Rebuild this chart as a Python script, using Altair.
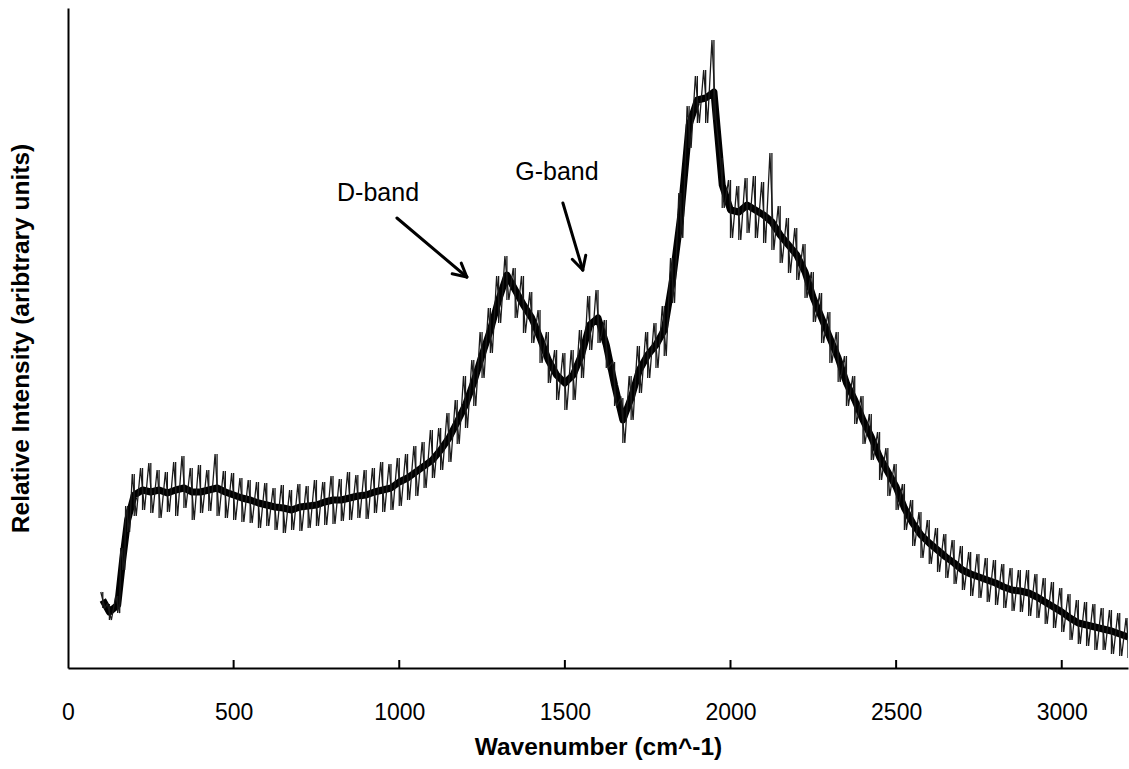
import math
import altair as alt
import pandas as pd

# ---- data (intensity in arbitrary units) ----
wavenumber = [105, 125, 150, 165, 180] + list(range(200, 3201, 25))

center = [
    68, 56, 63, 108, 148,
    173, 178, 176, 178, 175, 178, 180, 176,
    176, 178, 180, 176, 173, 170, 168, 165,
    163, 161, 160, 158, 161, 162, 163, 166,
    168, 168, 170, 172, 173, 176, 178, 180,
    186, 190, 196, 202, 208, 218, 230, 246,
    263, 286, 313, 338, 368, 393, 378, 363,
    350, 330, 308, 293, 285, 293, 313, 343,
    350, 323, 283, 248, 270, 298, 313, 323,
    338, 388, 453, 543, 568, 570, 576, 483,
    458, 456, 463, 458, 453, 446, 433, 423,
    413, 396, 370, 350, 330, 310, 285, 268,
    248, 231, 211, 196, 181, 160, 145, 133,
    125, 118, 111, 105, 98, 94, 91, 88,
    85, 81, 78, 77, 75, 71, 66, 61,
    56, 50, 45, 43, 41, 39, 37, 34,
    31,
]

upper = [
    76, 64, 72, 120, 162,
    194, 200, 205, 198, 196, 206, 212, 200,
    203, 198, 214, 197, 195, 190, 188, 186,
    185, 180, 183, 178, 184, 182, 188, 186,
    192, 189, 196, 193, 198, 200, 206, 204,
    210, 214, 222, 226, 238, 240, 255, 268,
    292, 308, 336, 360, 392, 412, 400, 392,
    376, 358, 336, 318, 315, 318, 338, 372,
    378, 348, 306, 270, 292, 322, 336, 345,
    362, 410, 475, 562, 592, 598, 628, 510,
    488, 482, 490, 492, 486, 515, 462, 450,
    440, 424, 396, 375, 356, 336, 312, 292,
    272, 254, 236, 220, 204, 184, 168, 156,
    148, 140, 134, 128, 122, 116, 114, 110,
    108, 104, 100, 98, 98, 94, 90, 86,
    80, 74, 68, 66, 64, 60, 58, 55,
    50,
]

lower = [
    60, 48, 55, 98, 136,
    152, 158, 155, 150, 156, 152, 160, 148,
    155, 157, 152, 150, 148, 146, 145, 140,
    142, 138, 135, 138, 137, 140, 142, 143,
    144, 147, 148, 150, 149, 155, 156, 158,
    162, 168, 172, 180, 190, 198, 206, 224,
    240, 262, 290, 315, 345, 368, 350, 335,
    325, 305, 285, 268, 258, 268, 290, 318,
    325, 300, 262, 225, 248, 275, 290, 300,
    312, 365, 430, 520, 545, 545, 548, 460,
    430, 428, 435, 430, 425, 418, 405, 395,
    388, 370, 346, 325, 305, 286, 262, 244,
    224, 208, 188, 172, 158, 138, 122, 110,
    104, 96, 90, 84, 78, 72, 70, 66,
    63, 60, 57, 56, 52, 50, 44, 40,
    36, 28, 24, 22, 18, 18, 14, 12,
    10,
]

x_ticks = [500, 1000, 1500, 2000, 2500, 3000]

labels = ["D-band", "G-band"]
label_x = [936, 1476]
label_y = [475, 496]
arrow_start_x = [993, 1494]
arrow_start_y = [450, 465]
arrow_tip_x = [1204, 1554]
arrow_tip_y = [391, 398]

# ---- geometry of the plot ----
W, H = 1060, 660
XMAX, YMAX = 3200, 660
sx, sy = W / XMAX, H / YMAX

# noisy trace: alternate upper / lower readings
zz = []
for i, (xv, u, l) in enumerate(zip(wavenumber, upper, lower)):
    zz.append({"x": xv - 6, "y": u, "o": 2 * i})
    zz.append({"x": xv + 6, "y": l, "o": 2 * i + 1})
zz_df = pd.DataFrame(zz)
band_df = pd.DataFrame({"x": wavenumber, "y": center, "hi": upper, "lo": lower})

xs = alt.Scale(domain=[0, XMAX], nice=False, zero=False)
ys = alt.Scale(domain=[0, YMAX], nice=False, zero=False)

FONT = "Liberation Sans"
x_axis = alt.Axis(
    values=x_ticks + [0], ticks=False, grid=False, labelFontSize=23,
    labelPadding=33, labelColor="black", labelFont=FONT, labelFlush=False,
    format="d",
    title="Wavenumber (cm^-1)", titleFontSize=24.5, titleFont=FONT,
    titleFontWeight="bold", titlePadding=11, titleColor="black",
    domainColor="black", domainWidth=2,
)
y_axis = alt.Axis(
    labels=False, ticks=False, grid=False,
    title="Relative Intensity (aribtrary units)", titleFontSize=24.5,
    titleFont=FONT, titleFontWeight="bold", titlePadding=35,
    titleColor="black", domainColor="black", domainWidth=2,
)

core = alt.Chart(band_df).mark_line(
    color="black", strokeWidth=7, clip=True, strokeJoin="round"
).encode(
    x=alt.X("x:Q", scale=xs, axis=x_axis),
    y=alt.Y("y:Q", scale=ys, axis=y_axis),
)
spikes = alt.Chart(band_df).mark_rule(color="#1a1a1a", strokeWidth=1.3, clip=True).encode(
    x=alt.X("x:Q", scale=xs), y=alt.Y("lo:Q", scale=ys), y2="hi:Q"
)
noise = alt.Chart(zz_df).mark_line(color="#1a1a1a", strokeWidth=1.3, clip=True).encode(
    x=alt.X("x:Q", scale=xs), y=alt.Y("y:Q", scale=ys), order="o:Q"
)

tick_df = pd.DataFrame({"x": x_ticks, "y": [0] * len(x_ticks), "y2": [8] * len(x_ticks)})
ticks = alt.Chart(tick_df).mark_rule(color="black", strokeWidth=2).encode(
    x=alt.X("x:Q", scale=xs), y=alt.Y("y:Q", scale=ys), y2="y2:Q"
)

# arrows (shaft + two head strokes)
segs = []
for x0, y0, x1, y1 in zip(arrow_start_x, arrow_start_y, arrow_tip_x, arrow_tip_y):
    segs.append({"x": x0, "y": y0, "x2": x1, "y2": y1})
    dx, dy = (x1 - x0) * sx, (y1 - y0) * sy
    ang = math.atan2(dy, dx)
    L = 15
    for da in (math.radians(28), -math.radians(28)):
        a = ang + math.pi + da
        hx = x1 + L * math.cos(a) / sx
        hy = y1 + L * math.sin(a) / sy
        segs.append({"x": x1, "y": y1, "x2": hx, "y2": hy})
seg_df = pd.DataFrame(segs)
arrows = alt.Chart(seg_df).mark_rule(color="black", strokeWidth=3, strokeCap="round").encode(
    x=alt.X("x:Q", scale=xs), y=alt.Y("y:Q", scale=ys), x2="x2:Q", y2="y2:Q"
)

text_df = pd.DataFrame({"label": labels, "x": label_x, "y": label_y})
texts = alt.Chart(text_df).mark_text(
    fontSize=25, font=FONT, color="black", align="center", baseline="middle"
).encode(x=alt.X("x:Q", scale=xs), y=alt.Y("y:Q", scale=ys), text="label:N")

chart = (
    alt.layer(core, spikes, noise, ticks, arrows, texts)
    .properties(
        width=W, height=H,
        padding={"left": 68, "top": 8, "right": 1, "bottom": 101},
        autosize=alt.AutoSizeParams(type="none"),
        background="white",
    )
    .configure_view(stroke=None)
)

chart.save("out.html", embed_options={"renderer": "svg", "actions": False})
